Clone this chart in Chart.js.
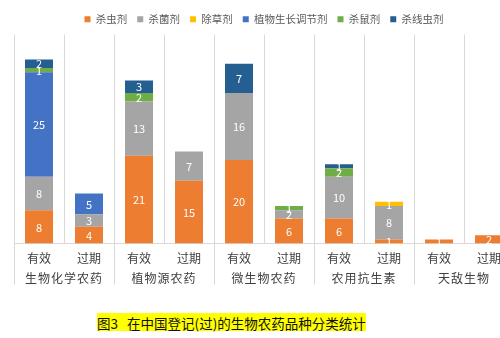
<!DOCTYPE html>
<html>
<head>
<meta charset="utf-8">
<script src="https://cdn.jsdelivr.net/npm/chart.js@4/dist/chart.umd.min.js"></script>
<style>
  html, body { margin: 0; padding: 0; background: #fff; overflow: hidden; width: 500px; height: 338px; }
  #wrap { position: absolute; left: 0; top: 0; width: 530px; height: 299px; }
  #caption {
    position: absolute; left: 97px; top: 313px; height: 18px; line-height: 18px;
    background: #ffff00; color: #111; white-space: pre;
    font: 13.5px "Noto Sans CJK SC", sans-serif;
  }
</style>
</head>
<body>
<div id="wrap"><canvas id="chart"></canvas></div>
<div id="caption">图3   在中国登记(过)的生物农药品种分类统计</div>
<script>
// categories: status per bar, group names (two bars per group)
const statusLabels = ['有效', '过期', '有效', '过期', '有效', '过期', '有效', '过期', '有效', '过期'];
const groupLabels = ['生物化学农药', '植物源农药', '微生物农药', '农用抗生素', '天敌生物'];

// series values (0 = not present)
const insecticide = [8, 4, 21, 15, 20, 6, 6, 1, 1, 2];     // 杀虫剂
const fungicide   = [8, 3, 13, 7, 16, 2, 10, 8, 0, 0];     // 杀菌剂
const herbicide   = [0, 0, 0, 0, 0, 0, 0, 1, 0, 0];        // 除草剂
const regulator   = [25, 5, 0, 0, 0, 0, 0, 0, 0, 0];       // 植物生长调节剂
const rodenticide = [1, 0, 2, 0, 0, 1, 2, 0, 0, 0];        // 杀鼠剂
const nematicide  = [2, 0, 3, 0, 7, 0, 1, 0, 0, 0];        // 杀线虫剂

const seriesNames = ['杀虫剂', '杀菌剂', '除草剂', '植物生长调节剂', '杀鼠剂', '杀线虫剂'];
const seriesColors = ['#ED7D31', '#A5A5A5', '#FFC000', '#4472C4', '#70AD47', '#255E91'];
const seriesData = [insecticide, fungicide, herbicide, regulator, rodenticide, nematicide];

const gridColor = '#D9D9D9';
const cjkFont = '"Noto Sans CJK SC", sans-serif';

// white value labels in the middle of each segment
const valueLabels = {
    id: 'valueLabels',
    afterDatasetsDraw(chart) {
        const ctx = chart.ctx;
        ctx.save();
        ctx.font = '11px ' + cjkFont;
        ctx.fillStyle = '#ffffff';
        ctx.textAlign = 'center';
        ctx.textBaseline = 'middle';
        chart.data.datasets.forEach((ds, i) => {
            const meta = chart.getDatasetMeta(i);
            meta.data.forEach((bar, j) => {
                const v = ds.data[j];
                if (!v) return;
                ctx.fillText(String(v), bar.x, (bar.y + bar.base) / 2 + 0.5);
            });
        });
        ctx.restore();
    }
};

// second row of x labels + group separator lines
const groupAxis = {
    id: 'groupAxis',
    afterDraw(chart) {
        const ctx = chart.ctx;
        const xs = chart.scales.x;
        const area = chart.chartArea;
        const half = (xs.getPixelForValue(1) - xs.getPixelForValue(0)) / 2;
        ctx.save();
        ctx.strokeStyle = gridColor;
        ctx.lineWidth = 1;
        for (let g = 0; g <= groupLabels.length; g++) {
            const x = Math.round(xs.getPixelForValue(g * 2) - half) + 0.5;
            ctx.beginPath();
            ctx.moveTo(x, area.bottom);
            ctx.lineTo(x, area.bottom + 41);
            ctx.stroke();
        }
        ctx.font = '12px ' + cjkFont;
        ctx.fillStyle = '#404040';
        ctx.textAlign = 'center';
        ctx.textBaseline = 'middle';
        if ('letterSpacing' in ctx) ctx.letterSpacing = '1px';
        groupLabels.forEach((name, g) => {
            const x = xs.getPixelForValue(g * 2) + half;
            ctx.fillText(name, x, area.bottom + 35);
        });
        ctx.restore();
    }
};

new Chart(document.getElementById('chart'), {
    type: 'bar',
    data: {
        labels: statusLabels,
        datasets: seriesNames.map((name, i) => ({
            label: name,
            data: seriesData[i],
            backgroundColor: seriesColors[i],
            borderWidth: 0,
            categoryPercentage: 1,
            barPercentage: 0.56
        }))
    },
    options: {
        responsive: true,
        maintainAspectRatio: false,
        animation: false,
        layout: { padding: { left: 14, right: 16, top: 4, bottom: 25 } },
        plugins: {
            legend: {
                position: 'top',
                labels: {
                    usePointStyle: true,
                    pointStyle: 'rect',
                    boxWidth: 6,
                    boxHeight: 6,
                    padding: 10,
                    color: '#595959',
                    font: { family: cjkFont, size: 10.5 }
                }
            },
            tooltip: { enabled: false }
        },
        scales: {
            x: {
                stacked: true,
                offset: true,
                grid: { offset: true, color: gridColor, drawTicks: false },
                border: { color: gridColor },
                ticks: {
                    color: '#404040',
                    padding: 8,
                    font: { family: cjkFont, size: 12 }
                }
            },
            y: {
                stacked: true,
                display: false,
                min: 0,
                max: 50
            }
        }
    },
    plugins: [valueLabels, groupAxis]
});
</script>
</body>
</html>
